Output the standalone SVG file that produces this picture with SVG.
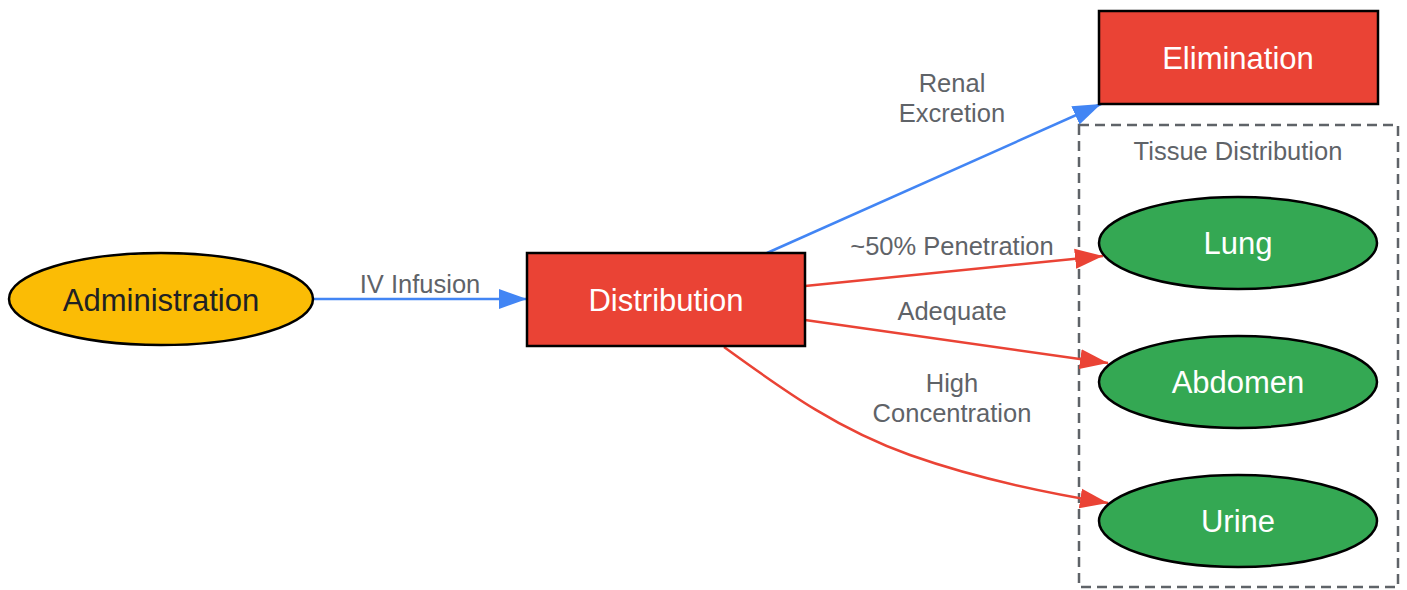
<svg xmlns="http://www.w3.org/2000/svg" width="1407" height="590" viewBox="0 0 1407 590">
<style>
.node{stroke:#000;stroke-width:2.5}
.red{fill:#EA4335}.green{fill:#34A853}.yellow{fill:#FBBC05}
.lbl{font-family:"Liberation Sans",Arial,sans-serif;font-size:31px;text-anchor:middle;dominant-baseline:central}
.w{fill:#fff}.dk{fill:#202124}
.el{font-family:"Liberation Sans",Arial,sans-serif;font-size:25.5px;fill:#5f6368;text-anchor:middle;dominant-baseline:central}
.e{fill:none;stroke-width:2.5}
.eb{stroke:#4285F4}.er{stroke:#EA4335}
</style>
<defs>
<marker id="ab" markerUnits="userSpaceOnUse" markerWidth="30" markerHeight="22" refX="28" refY="11" orient="auto"><path d="M0,1 L28,11 L0,21 z" fill="#4285F4"/></marker>
<marker id="ar" markerUnits="userSpaceOnUse" markerWidth="30" markerHeight="22" refX="28" refY="11" orient="auto"><path d="M0,1 L28,11 L0,21 z" fill="#EA4335"/></marker>
</defs>
<rect width="1407" height="590" fill="#fff"/>
<g id="cluster">
<rect x="1079" y="125" width="319" height="462" fill="none" stroke="#5f6368" stroke-width="2.5" stroke-dasharray="10,6"/>
<text class="el" x="1238" y="151">Tissue Distribution</text>
</g>
<g id="edges">
<path class="e eb" d="M313,299 L527,299" marker-end="url(#ab)"/>
<path class="e eb" d="M767,253 L1101,104" marker-end="url(#ab)"/>
<path class="e er" d="M805,286 L1103,256" marker-end="url(#ar)"/>
<path class="e er" d="M805,320 L1108,363" marker-end="url(#ar)"/>
<path class="e er" d="M724,347 C790,395 840,430 910,455 C975,478 1040,492 1108,503" marker-end="url(#ar)"/>
<text class="el" x="420" y="284">IV Infusion</text>
<text class="el" x="952" y="83">Renal</text>
<text class="el" x="952" y="113">Excretion</text>
<text class="el" x="952" y="246">~50% Penetration</text>
<text class="el" x="952" y="311">Adequate</text>
<text class="el" x="952" y="383">High</text>
<text class="el" x="952" y="413">Concentration</text>
</g>
<g id="administration">
<ellipse class="node yellow" cx="161" cy="299" rx="152" ry="46"/>
<text class="lbl dk" x="161" y="300">Administration</text>
</g>
<g id="distribution">
<rect class="node red" x="527" y="253" width="278" height="93"/>
<text class="lbl w" x="666" y="300">Distribution</text>
</g>
<g id="elimination">
<rect class="node red" x="1099" y="11" width="279" height="93"/>
<text class="lbl w" x="1238" y="58">Elimination</text>
</g>
<g id="lung">
<ellipse class="node green" cx="1238" cy="243" rx="139" ry="46"/>
<text class="lbl w" x="1238" y="243">Lung</text>
</g>
<g id="abdomen">
<ellipse class="node green" cx="1238" cy="382" rx="139" ry="46"/>
<text class="lbl w" x="1238" y="382">Abdomen</text>
</g>
<g id="urine">
<ellipse class="node green" cx="1238" cy="521" rx="139" ry="46"/>
<text class="lbl w" x="1238" y="521">Urine</text>
</g>
</svg>
